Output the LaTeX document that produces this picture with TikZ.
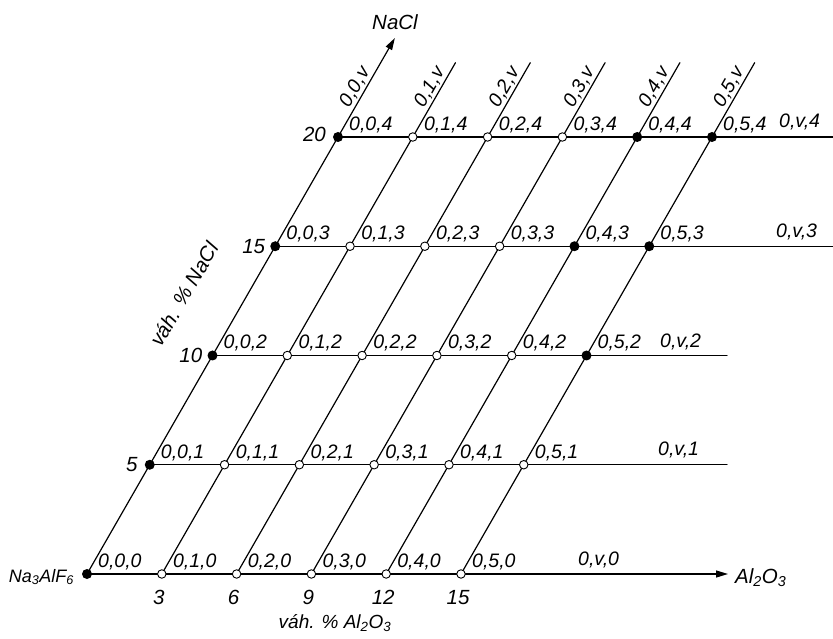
\documentclass[tikz,border=0pt]{standalone}
\usepackage{fontspec}
\setmainfont{Liberation Sans}
\usetikzlibrary{arrows.meta}
\tikzset{
  gridline/.style={line width=1.2pt},
  opendot/.style={circle,draw,line width=0.9pt,fill=white,minimum size=8.5pt,inner sep=0pt},
  fulldot/.style={circle,fill=black,minimum size=10pt,inner sep=0pt},
  ptlabel/.style={font=\itshape\fontsize{19.5}{19.5}\selectfont,anchor=south west,inner sep=0pt},
  axlabel/.style={font=\itshape\fontsize{20.5}{20.5}\selectfont,inner sep=0pt},
}

\begin{document}
\begin{tikzpicture}[line cap=round,line join=round,>={Triangle[length=12pt,width=7pt]},x=1pt,y=1pt]
\useasboundingbox (0,0) rectangle (833,638);
\foreach \i in {0,...,5}
  \foreach \j in {0,...,4}
    \coordinate (g\i\j) at ({87+74.8*\i+62.75*\j},{64+109.25*\j});
\foreach \i in {1,...,5}
  \coordinate (t\i) at ({87+74.8*\i+62.75*4.68},{64+109.25*4.68});
\coordinate (tNa) at ({87+62.75*4.906},{64+109.25*4.906});
\coordinate (e0) at (728,64);
\coordinate (e1) at (727,173.25);
\coordinate (e2) at (727,282.5);
\coordinate (e3) at (833,391.75);
\coordinate (e4) at (833,501);

\draw[gridline,->] (g00) -- (tNa);
\foreach \i in {1,...,5}
  \draw[gridline] (g\i0) -- (t\i);
\draw[gridline,->] (g00) -- (e0);
\foreach \j in {1,...,4}
  \draw[gridline] (g0\j) -- (e\j);

\foreach \p in {00,01,02,03,04,52,43,53,44,54}
  \node[fulldot] (d\p) at (g\p) {};
\foreach \p in {10,20,30,40,50,11,21,31,41,51,12,22,32,42,13,23,33,14,24,34}
  \node[opendot] (d\p) at (g\p) {};

\foreach \i in {0,...,5}
  \foreach \j in {0,...,4}
    \node[ptlabel] (l\i\j) at ([xshift=11pt,yshift=4pt]g\i\j) {0,\i,\j};
\foreach \i in {0,...,5}
  \node[ptlabel,anchor=south,rotate=60,inner sep=2pt] (lv\i) at ({87+74.8*\i+62.75*4.41},{64+109.25*4.41}) {0,\i,v};
\node[ptlabel] (r0) at (578,70) {0,v,0};
\node[ptlabel] (r1) at (658,180) {0,v,1};
\node[ptlabel] (r2) at (660,288) {0,v,2};
\node[ptlabel] (r3) at (776,398) {0,v,3};
\node[ptlabel] (r4) at (779,508) {0,v,4};

\node[axlabel,anchor=east] (n5) at ([xshift=-12pt]g01) {5};
\node[axlabel,anchor=east] (n10) at ([xshift=-10pt]g02) {10};
\node[axlabel,anchor=east] (n15) at ([xshift=-10pt]g03) {15};
\node[axlabel,anchor=east] (n20) at ([xshift=-12pt,yshift=3pt]g04) {20};
\foreach \i/\v in {1/3,2/6,3/9,4/12,5/15}
  \node[axlabel,anchor=north] (a\i) at ([xshift=-3pt,yshift=-16pt]g\i0) {\v};

\node[axlabel] (naclt) at (395,616) {NaCl};
\node[axlabel,anchor=west] (al) at ([xshift=7pt,yshift=-4pt]e0) {Al\textsubscript{2}O\textsubscript{3}};
\node[axlabel,anchor=east,font=\itshape\fontsize{18}{18}\selectfont] (cry) at ([xshift=-13pt,yshift=-3pt]g00) {Na\textsubscript{3}AlF\textsubscript{6}};
\node[axlabel,font=\itshape\fontsize{19}{19}\selectfont] (xal) at (335,15) {váh. \% Al\textsubscript{2}O\textsubscript{3}};
\node[axlabel,rotate=60] (ynacl) at (184,344) {váh. \% NaCl};
\end{tikzpicture}
\end{document}
